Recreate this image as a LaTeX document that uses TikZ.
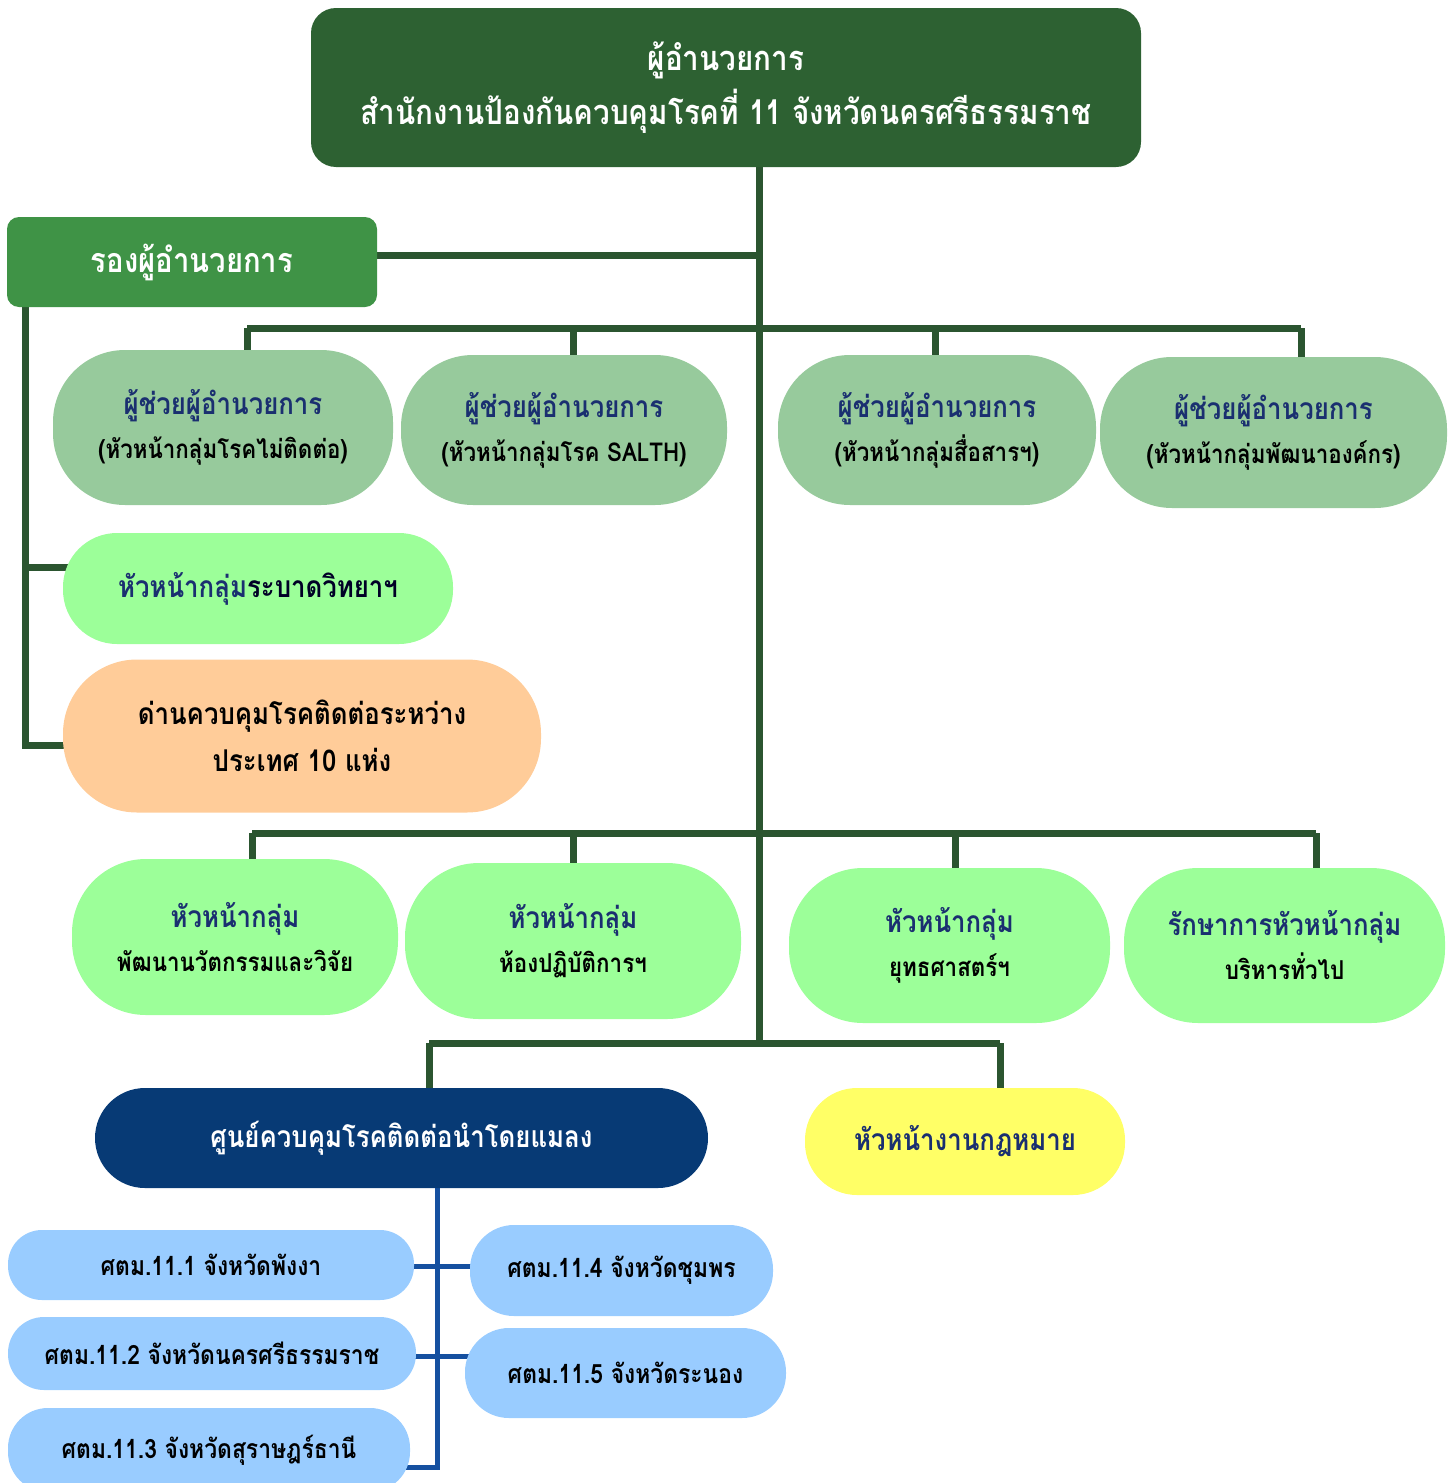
\documentclass[tikz,border=0pt]{standalone}
\usepackage{fontspec}
\setmainfont{Loma}[Script=Thai,FakeStretch=0.86]
\definecolor{topgreen}{HTML}{2D6132}
\definecolor{depgreen}{HTML}{3F9346}
\definecolor{linegreen}{HTML}{2B5530}
\definecolor{asstfill}{HTML}{97CA9C}
\definecolor{grpfill}{HTML}{9CFF99}
\definecolor{peach}{HTML}{FFCC99}
\definecolor{vecnavy}{HTML}{073A75}
\definecolor{lawyellow}{HTML}{FFFF66}
\definecolor{lightblue}{HTML}{99CCFF}
\definecolor{lineblue}{HTML}{1550A0}
\definecolor{txtnavy}{HTML}{1A2F70}
\pgfdeclarelayer{background}
\pgfsetlayers{background,main}
\begin{document}
\begin{tikzpicture}[x=0.5pt,y=-0.5pt,
  orgbox/.style={draw=none, align=center, inner sep=0pt, font=\bfseries},
  trunkline/.style={draw=linegreen, line width=3.5pt},
  blueline/.style={draw=lineblue, line width=2.5pt},
  asst/.style={orgbox, fill=asstfill, rounded corners=36pt, font=\bfseries\fontsize{13}{22}\selectfont},
  grp/.style={orgbox, fill=grpfill, rounded corners=37pt, font=\bfseries\fontsize{13}{22}\selectfont},
  sbox/.style={orgbox, fill=lightblue, font=\bfseries\fontsize{13.3}{15}\selectfont},
]
\useasboundingbox (0,0) rectangle (1450,1483);

% ---- top
\node[orgbox, fill=topgreen, text=white, minimum width=415pt, minimum height=79.5pt,
  rounded corners=12.5pt, font=\bfseries\fontsize{17.2}{27}\selectfont] (top) at (726,87.5)
  {ผู้อำนวยการ\\สำนักงานป้องกันควบคุมโรคที่ 11 จังหวัดนครศรีธรรมราช};

\node[orgbox, fill=depgreen, text=white, minimum width=185pt, minimum height=45pt,
  rounded corners=6pt, font=\bfseries\fontsize{17}{20}\selectfont] (dep) at (192,262) {รองผู้อำนวยการ};

% ---- assistants
\newcommand{\asstxt}[1]{{\color{txtnavy}\fontsize{15}{22}\selectfont ผู้ช่วยผู้อำนวยการ}\\{\fontsize{13}{22}\selectfont #1}}
\node[asst, minimum width=170pt, minimum height=77.5pt] (a1) at (223,427.5) {\asstxt{(หัวหน้ากลุ่มโรคไม่ติดต่อ)}};
\node[asst, minimum width=163pt, minimum height=75pt] (a2) at (564,430) {\asstxt{(หัวหน้ากลุ่มโรค SALTH)}};
\node[asst, minimum width=159pt, minimum height=75pt] (a3) at (937,430) {\asstxt{(หัวหน้ากลุ่มสื่อสารฯ)}};
\node[asst, minimum width=173.5pt, minimum height=75.5pt] (a4) at (1273.5,432.5) {\asstxt{(หัวหน้ากลุ่มพัฒนาองค์กร)}};

% ---- epi and border
\node[orgbox, fill=grpfill, minimum width=195pt, minimum height=55.5pt, rounded corners=27pt,
  font=\bfseries\fontsize{15}{17}\selectfont] (epi) at (258,588.5)
  {{\color{txtnavy}หัวหน้ากลุ่ม}{\color{black!85!blue}ระบาดวิทยาฯ}};
\node[orgbox, fill=peach, minimum width=239pt, minimum height=76.5pt, rounded corners=37pt,
  font=\bfseries\fontsize{15}{23.5}\selectfont] (dan) at (302,736)
  {ด่านควบคุมโรคติดต่อระหว่าง\\ประเทศ 10 แห่ง};

% ---- groups
\newcommand{\grptxt}[2]{{\color{txtnavy}\fontsize{15}{22}\selectfont #1}\\{\fontsize{13}{22}\selectfont #2}}
\node[grp, minimum width=163pt, minimum height=78pt] (g1) at (235,937) {\grptxt{หัวหน้ากลุ่ม}{พัฒนานวัตกรรมและวิจัย}};
\node[grp, minimum width=168pt, minimum height=78pt] (g2) at (573,941) {\grptxt{หัวหน้ากลุ่ม}{ห้องปฏิบัติการฯ}};
\node[grp, minimum width=160.5pt, minimum height=77.5pt] (g3) at (949.5,945.5) {\grptxt{หัวหน้ากลุ่ม}{ยุทธศาสตร์ฯ}};
\node[grp, minimum width=160.5pt, minimum height=77.5pt] (g4) at (1284.5,945.5) {\grptxt{รักษาการหัวหน้ากลุ่ม}{บริหารทั่วไป}};

% ---- vector and law
\node[orgbox, fill=vecnavy, text=white, minimum width=306.5pt, minimum height=50pt, rounded corners=25pt,
  font=\bfseries\fontsize{15}{18}\selectfont] (vec) at (401.5,1138) {ศูนย์ควบคุมโรคติดต่อนำโดยแมลง};
\node[orgbox, fill=lawyellow, text=txtnavy, minimum width=160pt, minimum height=53.5pt, rounded corners=26pt,
  font=\bfseries\fontsize{15}{18}\selectfont] (law) at (965,1141.5) {หัวหน้างานกฎหมาย};

% ---- vector centres
\node[sbox, minimum width=203pt, minimum height=35pt, rounded corners=17pt] (s1) at (211,1265) {ศตม.11.1 จังหวัดพังงา};
\node[sbox, minimum width=204pt, minimum height=36.5pt, rounded corners=18pt] (s2) at (212,1353.5) {ศตม.11.2 จังหวัดนครศรีธรรมราช};
\node[sbox, minimum width=201pt, minimum height=42pt, rounded corners=20pt] (s3) at (209,1450) {ศตม.11.3 จังหวัดสุราษฎร์ธานี};
\node[sbox, minimum width=151.5pt, minimum height=45.5pt, rounded corners=22pt] (s4) at (621.5,1270.5) {ศตม.11.4 จังหวัดชุมพร};
\node[sbox, minimum width=160.5pt, minimum height=45pt, rounded corners=22pt] (s5) at (625.5,1373) {ศตม.11.5 จังหวัดระนอง};

% ---- connectors
\coordinate (tx) at (759,0);
\coordinate (tb) at (759,1043);
\coordinate (b1l) at (247,328);
\coordinate (b1r) at (1301,328);
\coordinate (c2) at (573,328);
\coordinate (c3) at (935,328);
\coordinate (b2l) at (252,833);
\coordinate (b2r) at (1316,833);
\coordinate (d2) at (573,833);
\coordinate (d3) at (955,833);
\coordinate (b3l) at (429,1043);
\coordinate (b3r) at (1000,1043);
\coordinate (lx) at (25,0);
\coordinate (e1) at (25,567);
\coordinate (e2) at (25,745);
\coordinate (bx) at (437,0);
\coordinate (bb) at (437,1467);
\coordinate (j1) at (437,1266);
\coordinate (j2) at (437,1356);
\begin{pgfonlayer}{background}
  \draw[trunkline] (top.south -| tx) -- (tb);
  \draw[trunkline] ([yshift=3.5pt]dep.east) -- ([yshift=3.5pt]dep.east -| tx);
  \draw[trunkline] (b1l) -- (b1r);
  \draw[trunkline] (b1l) -- (b1l |- a1.center);
  \draw[trunkline] (c2) -- (c2 |- a2.center);
  \draw[trunkline] (c3) -- (c3 |- a3.center);
  \draw[trunkline] (b1r) -- (b1r |- a4.center);
  \draw[trunkline] (dep.south -| lx) -- (e2) -- (e2 -| dan.center);
  \draw[trunkline] (e1) -- (e1 -| epi.center);
  \draw[trunkline] (b2l) -- (b2r);
  \draw[trunkline] (b2l) -- (b2l |- g1.center);
  \draw[trunkline] (d2) -- (d2 |- g2.center);
  \draw[trunkline] (d3) -- (d3 |- g3.center);
  \draw[trunkline] (b2r) -- (b2r |- g4.center);
  \draw[trunkline] (b3l) -- (b3r);
  \draw[trunkline] (b3l) -- (b3l |- vec.center);
  \draw[trunkline] (b3r) -- (b3r |- law.center);
  \draw[blueline] (vec.south -| bx) -- (bb) -- (bb -| s3.center);
  \draw[blueline] (j1 -| s1.center) -- (j1 -| s4.center);
  \draw[blueline] (j2 -| s2.center) -- (j2 -| s5.center);
\end{pgfonlayer}
\end{tikzpicture}
\end{document}
